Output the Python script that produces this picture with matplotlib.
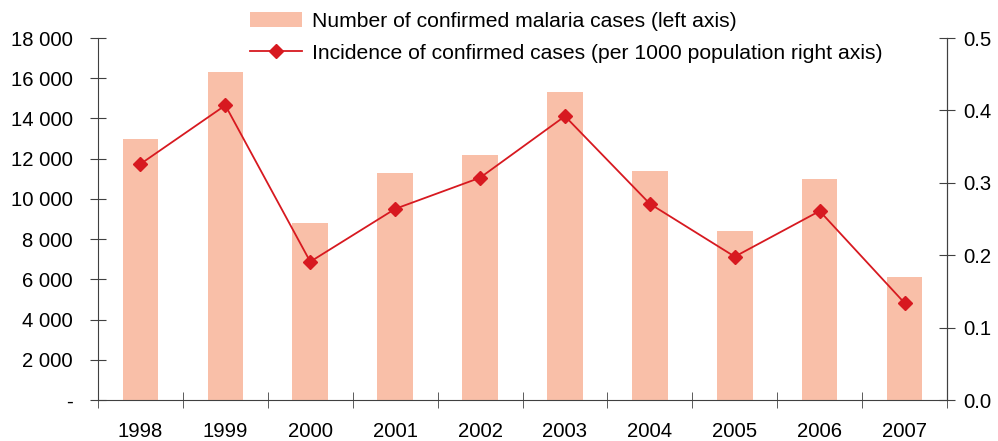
import matplotlib
matplotlib.use("Agg")
import matplotlib.pyplot as plt
import numpy as np

plt.rcParams['font.family'] = ['Liberation Sans', 'DejaVu Sans']

years = ['1998', '1999', '2000', '2001', '2002', '2003', '2004', '2005', '2006', '2007']
cases = [13000, 16300, 8800, 11300, 12200, 15300, 11400, 8400, 11000, 6100]
incidence = [0.326, 0.407, 0.191, 0.264, 0.307, 0.392, 0.271, 0.198, 0.261, 0.134]
left_ticks = [0, 2000, 4000, 6000, 8000, 10000, 12000, 14000, 16000, 18000]
left_labels = ['-', '2 000', '4 000', '6 000', '8 000', '10 000', '12 000', '14 000', '16 000', '18 000']
right_ticks = [0.0, 0.1, 0.2, 0.3, 0.4, 0.5]

bar_color = '#F9BFA8'
line_color = '#D71920'
axis_color = '#404040'
fs = 14.6

fig = plt.figure(figsize=(9.98, 4.41), dpi=100)
ax = fig.add_axes([98 / 998, 41 / 441, (947 - 98) / 998, (400 - 38) / 441])
x = np.arange(len(years))

bars = ax.bar(x, cases, width=0.42, color=bar_color, zorder=1,
              label='Number of confirmed malaria cases (left axis)')
ax.set_xlim(-0.5, len(years) - 0.5)
ax.set_ylim(0, 18000)
ax.set_yticks(left_ticks)
ax.set_yticklabels(left_labels)
ax.set_xticks(x)
ax.set_xticklabels(years)
ax.set_xticks(np.arange(len(years) + 1) - 0.5, minor=True)
ax.tick_params(axis='x', which='major', length=0, pad=16, labelsize=fs)
ax.tick_params(axis='x', which='minor', direction='inout', length=12, color=axis_color)
ax.tick_params(axis='y', direction='inout', length=12, color=axis_color, labelsize=fs, pad=12)
ax.spines['top'].set_visible(False)
for s in ['left', 'bottom', 'right']:
    ax.spines[s].set_color(axis_color)

ax2 = ax.twinx()
line, = ax2.plot(x, incidence, color=line_color, lw=1.3, marker='D', markersize=7,
                 label='Incidence of confirmed cases (per 1000 population right axis)', zorder=3)
ax2.set_ylim(0, 0.5)
ax2.set_yticks(right_ticks)
ax2.set_yticklabels(['%.1f' % t for t in right_ticks])
ax2.tick_params(axis='y', direction='inout', length=12, color=axis_color, labelsize=fs, pad=6)
for s in ['top', 'left', 'bottom']:
    ax2.spines[s].set_visible(False)
ax2.spines['right'].set_color(axis_color)

fig.legend([bars, line], [bars.get_label(), line.get_label()],
           loc='upper left', bbox_to_anchor=(238 / 998, 1.0), frameon=False,
           fontsize=15.2, handlelength=2.5, handletextpad=0.45, labelspacing=0.62,
           borderaxespad=0.15)

fig.savefig('out.png', dpi=100)
